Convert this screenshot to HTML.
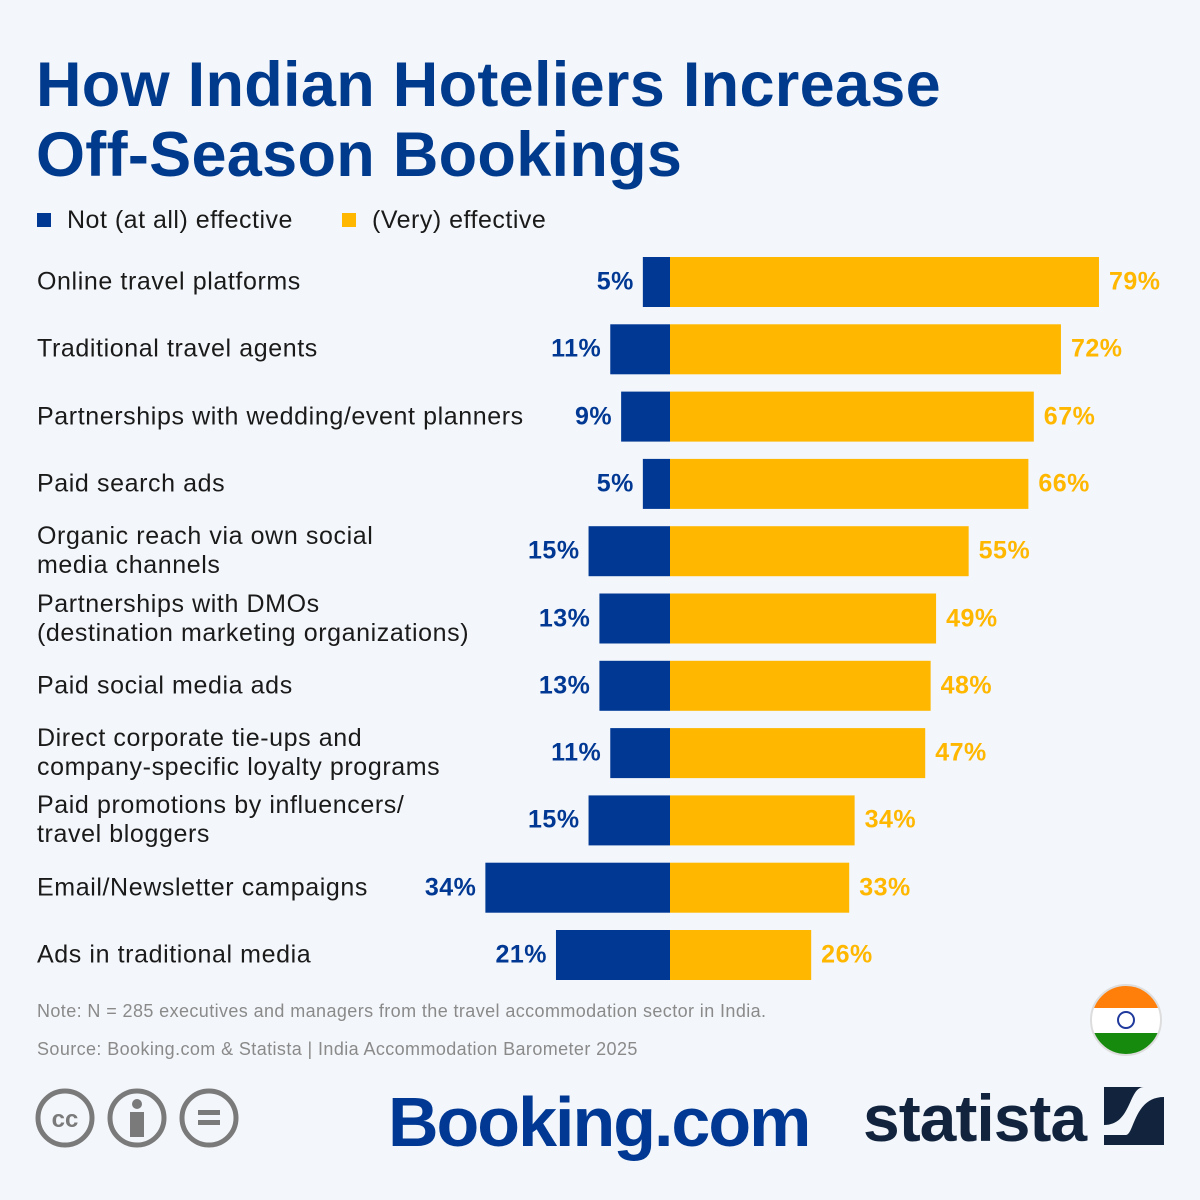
<!DOCTYPE html>
<html><head><meta charset="utf-8"><style>
body{margin:0;background:#f3f6fa;font-family:"Liberation Sans",sans-serif;}
#wrap{position:relative;width:1200px;height:1200px;overflow:hidden;background:#f3f6fa;}
h1{position:absolute;left:36px;top:50px;margin:0;font-size:63px;line-height:70px;color:#003a8c;font-weight:bold;letter-spacing:0.3px;}
.leg{position:absolute;top:206px;font-size:25px;color:#1a1a1a;letter-spacing:0.5px;}
.sw{display:inline-block;width:14px;height:14px;margin-right:16px;vertical-align:1px;}
.lab{position:absolute;left:37px;font-size:25px;line-height:29px;color:#1a1a1a;transform:translateY(-50%);letter-spacing:0.6px;white-space:nowrap;}
.val{position:absolute;font-size:25px;font-weight:bold;transform:translateY(-50%);letter-spacing:0.5px;}
.note{position:absolute;left:37px;font-size:18px;color:#8a8a8a;letter-spacing:0.4px;}
</style></head><body>
<div id="wrap">
<h1>How Indian Hoteliers Increase<br>Off-Season Bookings</h1>
<div class="leg" style="left:37px"><span class="sw" style="background:#003893"></span>Not (at all) effective</div>
<div class="leg" style="left:342px"><span class="sw" style="background:#ffb700"></span>(Very) effective</div>
<svg id="chart" width="1200" height="1000" style="position:absolute;left:0;top:0"></svg>
<div id="labels"></div>
<div class="note" style="top:1001px">Note: N = 285 executives and managers from the travel accommodation sector in India.</div>
<div class="note" style="top:1039px">Source: Booking.com &amp; Statista | India Accommodation Barometer 2025</div>
<svg width="76" height="76" style="position:absolute;left:1088px;top:982px">
<defs><clipPath id="c"><circle cx="38" cy="38" r="35"/></clipPath></defs>
<g clip-path="url(#c)"><rect x="0" y="0" width="76" height="26" fill="#ff7f0a"/><rect x="0" y="26" width="76" height="25" fill="#fff"/><rect x="0" y="51" width="76" height="25" fill="#168a0c"/></g>
<circle cx="38" cy="38" r="35" fill="none" stroke="#ddd" stroke-width="2"/>
<circle cx="38" cy="38" r="8" fill="none" stroke="#1f3a9c" stroke-width="2"/></svg>
<svg width="210" height="64" style="position:absolute;left:34px;top:1087px">
<g fill="none" stroke="#7a7a7a" stroke-width="5"><circle cx="31" cy="31" r="27"/><circle cx="103" cy="31" r="27"/><circle cx="175" cy="31" r="27"/></g>
<text x="31" y="40" text-anchor="middle" font-size="24" font-weight="bold" fill="#7a7a7a" font-family="Liberation Sans">cc</text>
<circle cx="103" cy="17" r="5" fill="#7a7a7a"/><rect x="96" y="25" width="14" height="25" fill="#7a7a7a"/>
<rect x="164" y="23" width="22" height="5" fill="#7a7a7a"/><rect x="164" y="33" width="22" height="5" fill="#7a7a7a"/></svg>
<div style="position:absolute;left:388px;top:1082px;font-size:70px;font-weight:bold;color:#003893;letter-spacing:-2px">Booking.com</div>
<div style="position:absolute;left:863px;top:1080px;font-size:66px;font-weight:bold;color:#12243d;letter-spacing:-1px">statista</div>
<svg width="60" height="58" style="position:absolute;left:1104px;top:1087px"><rect width="60" height="58" fill="#12243d"/><path d="M0 48 L22 48 C30 48 30 10 60 10 L60 0 L40 0 C24 0 28 38 0 38Z" fill="#f3f6fa"/></svg>
</div>
<script>
const categories=["Online travel platforms","Traditional travel agents","Partnerships with wedding/event planners","Paid search ads","Organic reach via own social<br>media channels","Partnerships with DMOs<br>(destination marketing organizations)","Paid social media ads","Direct corporate tie-ups and<br>company-specific loyalty programs","Paid promotions by influencers/<br>travel bloggers","Email/Newsletter campaigns","Ads in traditional media"];
const notEffective=[5,11,9,5,15,13,13,11,15,34,21];
const effective=[79,72,67,66,55,49,48,47,34,33,26];
const CX=670,PX=5.43,TOP=257,STEP=67.3,BH=50;
const xs=v=>v*PX;
const ys=i=>TOP+i*STEP;
const svg=document.getElementById('chart');
const lab=document.getElementById('labels');
const NS='http://www.w3.org/2000/svg';
categories.forEach((c,i)=>{
 const y=ys(i);
 const b=document.createElementNS(NS,'rect');
 b.setAttribute('x',CX-xs(notEffective[i]));b.setAttribute('y',y);b.setAttribute('width',xs(notEffective[i]));b.setAttribute('height',BH);b.setAttribute('fill','#003893');
 
 
 svg.appendChild(b);
 const r=document.createElementNS(NS,'rect');
 r.setAttribute('x',CX);r.setAttribute('y',y);r.setAttribute('width',xs(effective[i]));r.setAttribute('height',BH);r.setAttribute('fill','#ffb700');
 
 
 svg.appendChild(r);
 const l=document.createElement('div');l.className='lab';l.style.top=(y+BH/2)+'px';l.innerHTML=c;
 
 
 lab.appendChild(l);
 const v1=document.createElement('div');v1.className='val';v1.style.color='#003893';v1.style.top=(y+BH/2)+'px';
 v1.style.right=(1200-(CX-xs(notEffective[i]))+9)+'px';v1.textContent=notEffective[i]+'%';
 
 
 lab.appendChild(v1);
 const v2=document.createElement('div');v2.className='val';v2.style.color='#ffb700';v2.style.top=(y+BH/2)+'px';
 v2.style.left=(CX+xs(effective[i])+10)+'px';v2.textContent=effective[i]+'%';
 
 
 lab.appendChild(v2);
});
</script>
</body></html>
